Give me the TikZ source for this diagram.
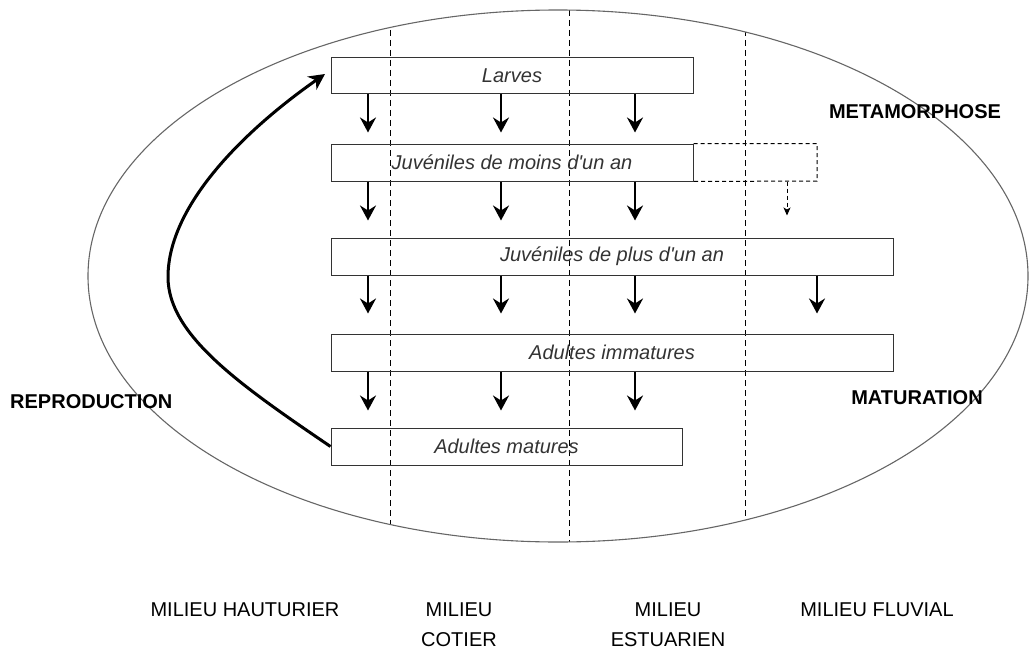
\documentclass[tikz,border=0pt]{standalone}
\usepackage{fontspec}
\setmainfont{Liberation Sans}
\usetikzlibrary{arrows.meta}
\begin{document}
\begin{tikzpicture}[x=1pt,y=-1pt,
  box/.style={draw=black!80, line width=1pt, inner sep=0pt, font=\fontsize{20}{24}\selectfont\itshape, text=black!80},
  arr/.style={line width=2.4pt, -{Stealth[length=15pt,width=16pt,inset=5pt]}},
  darr/.style={line width=1pt, dash pattern=on 4pt off 3pt, -{Stealth[length=8pt,width=7pt,inset=2pt]}},
  divider/.style={line width=0.9pt, dash pattern=on 6pt off 4pt},
  lab/.style={font=\fontsize{20}{30}\selectfont, align=center, inner sep=0pt},
  blab/.style={font=\fontsize{20}{24}\selectfont\bfseries, inner sep=0pt},
  loop/.style={line width=3pt, -{Stealth[length=16pt,width=16pt,inset=5pt]}}]
\useasboundingbox (0,0) rectangle (1032,650);
% ellipse and dividers
\begin{scope}
  \clip (558,276) ellipse [x radius=470, y radius=266];
  \draw[divider] (390,0) -- (390,650);
  \draw[divider] (569,0) -- (569,650);
  \draw[divider] (745,0) -- (745,650);
\end{scope}
\draw[black!60, line width=1.1pt] (558,276) ellipse [x radius=470, y radius=266];
% column coordinates
\coordinate (c1) at (368,0);
\coordinate (c2) at (501,0);
\coordinate (c3) at (635,0);
\coordinate (c4) at (817,0);
\coordinate (c5) at (787,0);
% boxes
\node[box, minimum width=362pt, minimum height=36pt] (larves) at (512,76) {Larves};
\node[box, minimum width=362pt, minimum height=37pt] (juv1) at (512,162.5) {Juvéniles de moins d\textquotesingle un an};
\node[box, minimum width=562pt, minimum height=37pt] (juv2) at (612,256.5) {Juvéniles de plus d\textquotesingle un an};
\node[box, minimum width=562pt, minimum height=37pt] (imm) at (612,352.5) {Adultes immatures};
\node[box, minimum width=351pt, minimum height=37pt] (mat) at (506.5,446.5) {Adultes matures};
% dashed extension box
\coordinate (dbr) at (817,181);
\draw[line width=1pt, dash pattern=on 4pt off 3pt] (juv1.north east) -- (juv1.north east -| dbr) -- (dbr) -- (juv1.south east);
\draw[darr] (juv1.south -| c5) -- ++(0,34);
% arrows
\foreach \c in {c1,c2,c3}{
  \draw[arr] (larves.south -| \c) -- ++(0,38);
  \draw[arr] (juv1.south -| \c) -- ++(0,39);
  \draw[arr] (juv2.south -| \c) -- ++(0,38);
  \draw[arr] (imm.south -| \c) -- ++(0,39);
}
\draw[arr] (juv2.south -| c4) -- ++(0,38);
% reproduction loop
\coordinate (ltip) at (325,74);
\draw[loop] (mat.west) .. controls (240,385) and (168,335) .. (168,277)
   .. controls (168,205) and (245,130) .. (ltip);
% side labels
\node[blab] (meta) at (915,112) {METAMORPHOSE};
\node[blab] (matu) at (917,398) {MATURATION};
\node[blab, anchor=west] (repro) at (10,402) {REPRODUCTION};
% bottom labels
\node[lab] (m1) at (245,610) {MILIEU HAUTURIER};
\node[lab, anchor=north] (m2) at (459,603) {MILIEU\\COTIER};
\node[lab, anchor=north] (m3) at (668,603) {MILIEU\\ESTUARIEN};
\node[lab] (m4) at (877,610) {MILIEU FLUVIAL};
\end{tikzpicture}
\end{document}
